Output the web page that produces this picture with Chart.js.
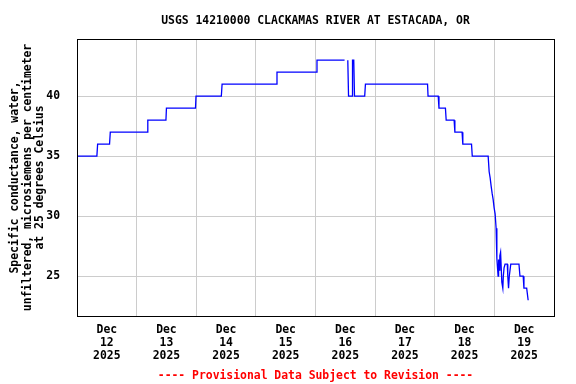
<!DOCTYPE html>
<html>
<head>
<meta charset="utf-8">
<script src="https://cdn.jsdelivr.net/npm/chart.js@4/dist/chart.umd.min.js"></script>
<style>
  html, body { margin: 0; padding: 0; background: #ffffff; }
  #wrap { width: 576px; height: 384px; }
</style>
</head>
<body>
<div id="wrap"><canvas id="c" width="576" height="384"></canvas></div>
<script>
// Hours since Dec 12 2025 00:00 and specific conductance values (µS/cm)
const hours = [0, 8.0, 8.3, 13.1, 13.4, 28.3, 28.5, 35.8, 36.0, 47.7,
  47.9, 58.1, 58.4, 80.3, 80.5, 96.4, 96.6, 107.7, 108.4, 109.0,
  109.3, 110.7, 110.9, 111.4, 111.7, 115.8, 116.1, 141.1, 141.3, 145.4,
  145.7, 148.3, 148.6, 151.8, 152.1, 155.0, 155.3, 158.8, 159.1, 165.5,
  165.9, 166.3, 166.7, 167.1, 167.5, 167.9, 168.3, 168.7, 169.0, 169.5,
  169.7, 169.9, 170.2, 170.5, 171.0, 171.4, 171.6, 171.9, 172.3, 173.2,
  173.4, 173.7, 174.0, 174.6, 177.9, 178.3, 179.6, 179.9, 181.0, 181.6];
const values = [35, 35, 36, 36, 37, 37, 38, 38, 39, 39,
  40, 40, 41, 41, 42, 42, 43, 43, null, 43,
  40, 40, 43, 43, 40, 40, 41, 41, 40, 40,
  39, 39, 38, 38, 37, 37, 36, 36, 35, 35,
  33.7, 33.2, 32.5, 31.9, 31.4, 30.7, 30.2, 29, 26.5, 25,
  26.4, 25.5, 26.7, 27, 24.5, 24, 25, 25.7, 26, 26,
  25, 24, 25, 26, 26, 25, 25, 24, 24, 23];

const tickMonth = 'Dec';
const tickDays = ['12', '13', '14', '15', '16', '17', '18', '19'];
const tickYear = '2025';
const yTicks = [25, 30, 35, 40];
const titleText = 'USGS 14210000 CLACKAMAS RIVER AT ESTACADA, OR';
const yTitle = ['Specific conductance, water,', 'unfiltered, microsiemens per centimeter', 'at 25 degrees Celsius'];
const footerText = '---- Provisional Data Subject to Revision ----';

const FONT = "'DejaVu Sans Mono', 'Liberation Mono', monospace";
const FS = 11.4;
const points = hours.map((h, i) => ({ x: h, y: values[i] }));

const frame = {
  id: 'frame',
  afterDatasetsDraw(chart) {
    const a = chart.chartArea, ctx = chart.ctx;
    ctx.save();
    ctx.strokeStyle = '#000000';
    ctx.lineWidth = 1;
    ctx.strokeRect(Math.round(a.left) + 0.5, Math.round(a.top) + 0.5,
      Math.round(a.right - a.left), Math.round(a.bottom - a.top));
    ctx.restore();
  }
};

new Chart(document.getElementById('c'), {
  type: 'line',
  data: {
    datasets: [{
      data: points,
      borderColor: '#0000ff',
      borderWidth: 1.3,
      pointRadius: 0,
      tension: 0,
      spanGaps: false,
      fill: false
    }]
  },
  options: {
    responsive: false,
    animation: false,
    layout: { padding: { left: 0, right: 22, top: 0, bottom: 1.5 } },
    plugins: {
      legend: { display: false },
      tooltip: { enabled: false },
      title: {
        display: true, text: titleText, color: '#000000', fullSize: false,
        font: { family: FONT, size: FS, weight: 'bold', lineHeight: 1.2 },
        padding: { top: 14, bottom: 11.5 }
      },
      subtitle: {
        display: true, text: footerText, color: '#ff0000', position: 'bottom', fullSize: false,
        font: { family: FONT, size: FS, weight: 'bold', lineHeight: 1.2 },
        padding: { top: 6, bottom: 0 }
      }
    },
    scales: {
      x: {
        type: 'linear', min: 0, max: 192,
        afterBuildTicks(s) {
          const t = [];
          for (let h = 0; h <= 192; h += 12) t.push({ value: h });
          s.ticks = t;
        },
        afterFit(s) { s.height = 47; },
        border: { display: false },
        grid: {
          drawTicks: false,
          color: (c) => (c.tick && c.tick.value % 24 === 0) ? '#cccccc' : 'rgba(0,0,0,0)',
          lineWidth: 1
        },
        ticks: {
          autoSkip: false, maxRotation: 0, minRotation: 0, padding: 7.5,
          color: '#000000',
          font: { family: FONT, size: FS, weight: 'bold', lineHeight: 1.15 },
          callback: (v) => {
            if (v % 24 !== 12) return '';
            const d = tickDays[Math.floor(v / 24)];
            return d ? [tickMonth, d, tickYear] : '';
          }
        }
      },
      y: {
        type: 'linear', min: 21.7, max: 44.75,
        afterBuildTicks(s) { s.ticks = yTicks.map(v => ({ value: v })); },
        afterFit(s) { s.width = 77; },
        border: { display: false },
        grid: { drawTicks: false, color: '#cccccc', lineWidth: 1 },
        ticks: {
          padding: 17, color: '#000000',
          font: { family: FONT, size: FS, weight: 'bold' }
        },
        title: {
          display: true, text: yTitle, color: '#000000',
          font: { family: FONT, size: FS, weight: 'bold', lineHeight: 1.08 },
          padding: { top: 9.3, bottom: 0 }
        }
      }
    }
  },
  plugins: [frame]
});
</script>
</body>
</html>
